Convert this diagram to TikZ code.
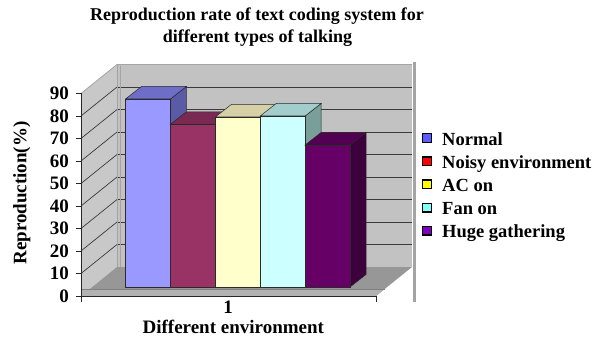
\documentclass[tikz,border=0pt]{standalone}
\usepackage{fontspec}
\newfontfamily\chartfont{Liberation Serif}
\definecolor{wallc}{HTML}{C2C2C2}
\definecolor{sidewallc}{HTML}{C8C8C8}
\definecolor{floorc}{HTML}{979797}
\definecolor{stripc}{HTML}{B2B2B2}
\definecolor{gridc}{HTML}{3A3A3A}
\definecolor{edgec}{HTML}{A4A4A4}
\definecolor{barline}{HTML}{2A2A2A}
\definecolor{bAf}{HTML}{9999FF}\definecolor{bAt}{HTML}{6E6EC8}\definecolor{bAs}{HTML}{5A5AA6}
\definecolor{bBf}{HTML}{993366}\definecolor{bBt}{HTML}{7A2952}\definecolor{bBs}{HTML}{5C1F3D}
\definecolor{bCf}{HTML}{FFFFCC}\definecolor{bCt}{HTML}{D6D0A6}\definecolor{bCs}{HTML}{B3B38F}
\definecolor{bDf}{HTML}{CCFFFF}\definecolor{bDt}{HTML}{A3CCCC}\definecolor{bDs}{HTML}{7A9E9A}
\definecolor{bEf}{HTML}{660066}\definecolor{bEt}{HTML}{520052}\definecolor{bEs}{HTML}{3D003D}
\definecolor{lA}{HTML}{5B5BFF}
\definecolor{lB}{HTML}{FF0000}
\definecolor{lC}{HTML}{FFFF00}
\definecolor{lD}{HTML}{80FFFF}
\definecolor{lE}{HTML}{8000C0}
\begin{document}
\begin{tikzpicture}[x=1pt,y=-1pt,
  titletext/.style={font=\chartfont\fontsize{18}{18}\selectfont\bfseries, inner sep=0pt, anchor=base},
  axislabel/.style={font=\chartfont\fontsize{19}{19}\selectfont\bfseries, inner sep=0pt},
  legtext/.style={font=\chartfont\fontsize{18.5}{18.5}\selectfont\bfseries, inner sep=0pt, anchor=base west},
  legsq/.style={draw=black, line width=1.4pt, minimum size=8.6pt, inner sep=0pt},
  gridline/.style={draw=gridc, line width=0.7pt},
  axisline/.style={draw=black!85, line width=0.8pt},
  barface/.style={draw=barline, line width=0.5pt}]
\useasboundingbox (0,0) rectangle (603,345);
\fill[white] (0,0) rectangle (603,345);
% title
\node[titletext] (t1) at (257,20.5) {Reproduction rate of text coding system for};
\node[titletext] (t2) at (257.5,42.5) {different types of talking};
% walls
\fill[wallc] (117,64.5) rectangle (412,267);
\fill[sidewallc] (81,93.5) -- (117,64.5) -- (117,267) -- (81,296) -- cycle;
\foreach \v in {10,20,...,80} {
  \draw[gridline] (117,{267-2.25*\v}) -- (412,{267-2.25*\v});
  \draw[gridline] (81,{296-2.25*\v}) -- (117,{267-2.25*\v});
}
\draw[edgec, line width=0.8pt] (81,93.5) -- (117,64.5) -- (412,64.5);
\draw[edgec, line width=0.8pt] (117,64.5) -- (117,267);
\draw[edgec, line width=0.8pt] (120,66) -- (120,267);
\draw[edgec, line width=3pt] (414.5,62.5) -- (414.5,302);
% floor
\fill[floorc] (117,267) -- (412,267) -- (376,296) -- (81,296) -- cycle;
\fill[stripc] (81,289) -- (384.7,289) -- (376,296) -- (81,296) -- cycle;
\draw[gray, line width=0.6pt] (81,289) -- (384.7,289);
% bars
\foreach \L/\T/\fc/\tc/\sc in {125.5/99/bAf/bAt/bAs, 170.4/124.3/bBf/bBt/bBs, 215.3/117/bCf/bCt/bCs, 260.2/116/bDf/bDt/bDs, 305.1/145/bEf/bEt/bEs} {
  \pgfmathsetmacro\R{\L+44.9}
  \filldraw[barface, fill=\sc] (\R,287) -- ({\R+16},274.5) -- ({\R+16},{\T-12.5}) -- (\R,\T) -- cycle;
  \filldraw[barface, fill=\tc] (\L,\T) -- ({\L+16},{\T-12.5}) -- ({\R+16},{\T-12.5}) -- (\R,\T) -- cycle;
  \filldraw[barface, fill=\fc] (\L,\T) rectangle (\R,287);
}
% axes
\draw[axisline] (81,93.5) -- (81,302);
\draw[axisline] (81,296) -- (376,296);
\draw[axisline] (376,296) -- (376,302);
\foreach \v in {0,10,...,90} {
  \draw[axisline] (76,{296-2.25*\v}) -- (81,{296-2.25*\v});
  \node[axislabel, anchor=east] (y\v) at (69,{296-2.25*\v}) {\v};
}
\node[axislabel, rotate=90, anchor=base] (ytitle) at (26.5,193) {Reproduction(\%)};
\node[axislabel, anchor=base] (xone) at (228,313.3) {1};
\node[axislabel, anchor=base] (xtitle) at (233.3,333) {Different environment};
% legend
\foreach \c/\txt [count=\i from 0] in {lA/Normal, lB/Noisy environment, lC/AC on, lD/Fan on, lE/Huge gathering} {
  \node[legsq, fill=\c] (sq\i) at (427,{138+23.2*\i}) {};
  \node[legtext] (lt\i) at (442,{145+23.2*\i}) {\txt};
}
\end{tikzpicture}
\end{document}
